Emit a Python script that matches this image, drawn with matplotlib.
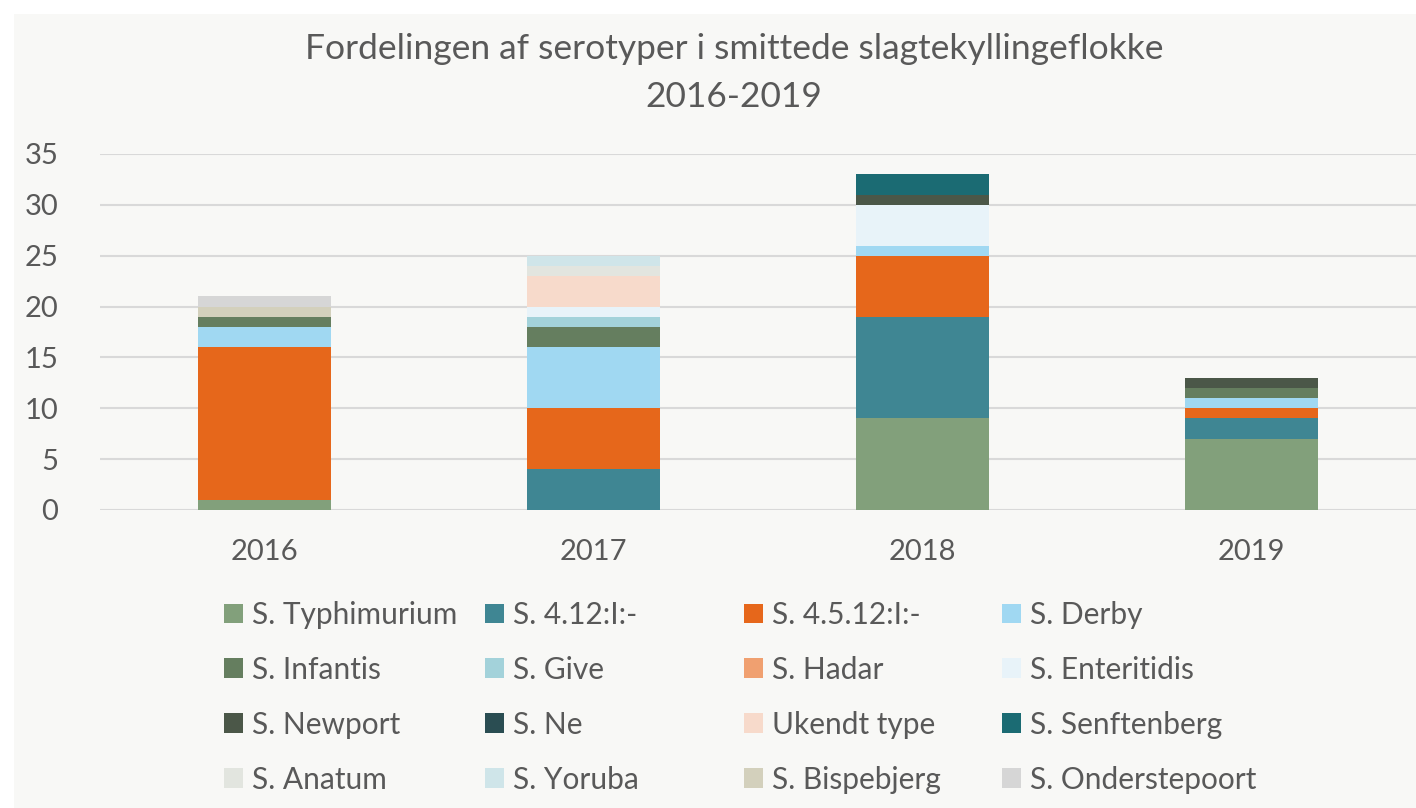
import matplotlib
matplotlib.use('Agg')
import matplotlib.pyplot as plt
import numpy as np
from matplotlib.patches import Rectangle, Patch

plt.rcParams['font.family'] = ['Lato', 'DejaVu Sans']

years = ['2016', '2017', '2018', '2019']
series = ['S. Typhimurium', 'S. 4.12:I:-', 'S. 4.5.12:I:-', 'S. Derby',
          'S. Infantis', 'S. Give', 'S. Hadar', 'S. Enteritidis',
          'S. Newport', 'S. Ne', 'Ukendt type', 'S. Senftenberg',
          'S. Anatum', 'S. Yoruba', 'S. Bispebjerg', 'S. Onderstepoort']
colors = ['#82a07b', '#3f8693', '#e6671b', '#a0d8f2',
          '#657e5f', '#a3d2da', '#f0a070', '#e8f3f9',
          '#4b5748', '#2a4d52', '#f7dacb', '#1b6b73',
          '#e2e5df', '#cfe5e9', '#d3d0bc', '#d6d6d6']

typhimurium = [1, 0, 9, 7]
s412 = [0, 4, 10, 2]
s4512 = [15, 6, 6, 1]
derby = [2, 6, 1, 1]
infantis = [1, 2, 0, 1]
give = [0, 1, 0, 0]
hadar = [0, 0, 0, 0]
enteritidis = [0, 1, 4, 0]
newport = [0, 0, 1, 1]
ne = [0, 0, 0, 0]
ukendt = [0, 3, 0, 0]
senftenberg = [0, 0, 2, 0]
anatum = [0, 1, 0, 0]
yoruba = [0, 1, 0, 0]
bispebjerg = [1, 0, 0, 0]
onderstepoort = [1, 0, 0, 0]

values = [typhimurium, s412, s4512, derby, infantis, give, hadar, enteritidis,
          newport, ne, ukendt, senftenberg, anatum, yoruba, bispebjerg, onderstepoort]

W, H = 1416, 808
fig = plt.figure(figsize=(W / 100, H / 100), dpi=100, facecolor='white')
fig.patches.append(Rectangle((14 / W, 0), 1, 1 - 14 / H, transform=fig.transFigure,
                             facecolor='#f8f8f6', edgecolor='none', zorder=-10))

ax = fig.add_axes([100 / W, (H - 510) / H, 1 - 100 / W, (510 - 154) / H])
ax.set_facecolor('none')
ax.set_zorder(2)

x = np.arange(len(years))
bottom = np.zeros(len(years))
for name, vals, c in zip(series, values, colors):
    ax.bar(x, vals, width=0.405, bottom=bottom, color=c, zorder=3, linewidth=0)
    bottom += np.array(vals)

ax.set_xlim(-0.5, 3.5)
ax.set_ylim(0, 35)
ax.set_yticks(range(0, 36, 5))
ax.set_xticks(x)
ax.set_xticklabels(years)
ax.yaxis.grid(True, color='#d9d9d9', linewidth=1.5, zorder=0)
ax.set_axisbelow(True)
for s in ax.spines.values():
    s.set_visible(False)
ax.tick_params(axis='both', length=0, labelsize=21, labelcolor='#595959')
ax.tick_params(axis='y', pad=30)
ax.tick_params(axis='x', pad=21)

fig.text(734 / W, (H - 73) / H, 'Fordelingen af serotyper i smittede slagtekyllingeflokke\n2016-2019',
         ha='center', va='center', fontsize=25.5, color='#595959', linespacing=1.6)

col_x = [224, 485, 744, 1002]
for j in range(4):
    idx = [j, j + 4, j + 8, j + 12]
    handles = [Patch(facecolor=colors[i], edgecolor='none') for i in idx]
    labels = [series[i] for i in idx]
    fig.legend(handles, labels, loc='upper left', bbox_to_anchor=(col_x[j] / W, (H - 601) / H),
               frameon=False, fontsize=21.5, labelcolor='#595959', handlelength=0.65,
               handleheight=0.65, handletextpad=0.3, labelspacing=0.9, borderpad=0,
               borderaxespad=0)

fig.savefig('out.png', dpi=100, facecolor=fig.get_facecolor())
